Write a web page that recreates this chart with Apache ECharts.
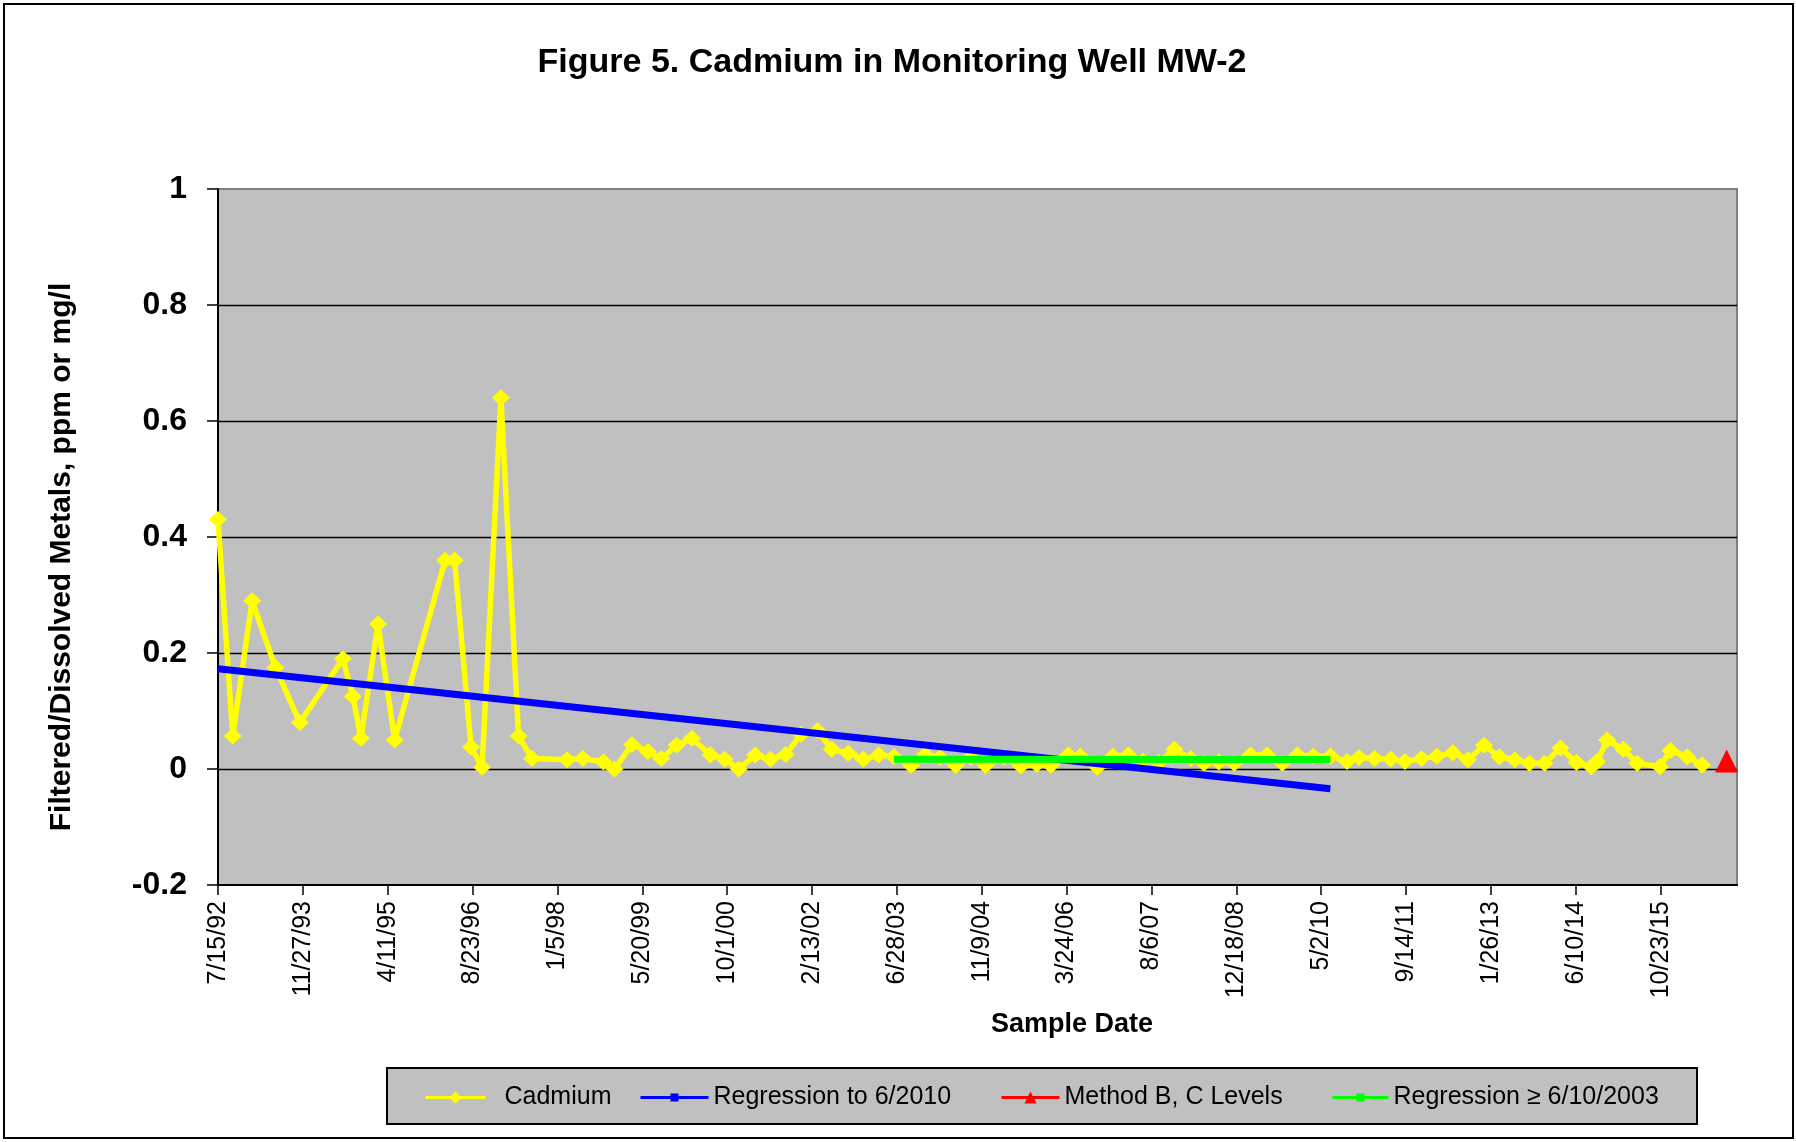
<!DOCTYPE html>
<html><head><meta charset="utf-8">
<script src="https://cdn.jsdelivr.net/npm/echarts@6/dist/echarts.min.js"></script>
<style>html,body{margin:0;padding:0;background:#fff}#c{width:1796px;height:1142px}</style>
</head><body><div id="c"></div>
<script>
// ---- data ----
const sampleDates = [
 '7/15/1992','10/10/1992','2/1/1993','6/18/1993','11/9/1993','7/21/1994','9/18/1994','11/4/1994',
 '2/13/1995','5/22/1995','3/14/1996','5/9/1996','8/14/1996','10/18/1996','2/6/1997','5/21/1997',
 '8/8/1997','3/2/1998','6/4/1998','10/3/1998','12/7/1998','3/20/1999','6/22/1999','9/9/1999',
 '12/8/1999','3/7/2000','6/24/2000','9/16/2000','12/8/2000','3/15/2001','6/13/2001','9/11/2001',
 '12/11/2001','3/18/2002','6/9/2002','9/14/2002','12/12/2002','3/13/2003','6/10/2003','9/20/2003',
 '12/12/2003','3/9/2004','6/9/2004','9/5/2004','12/2/2004','3/19/2005','6/27/2005','9/29/2005',
 '12/21/2005','4/3/2006','6/13/2006','9/21/2006','12/22/2006','3/22/2007','6/16/2007','9/18/2007',
 '12/19/2007','3/25/2008','6/10/2008','9/6/2008','12/6/2008','3/11/2009','6/17/2009','9/15/2009',
 '12/13/2009','3/17/2010','6/25/2010','10/1/2010','12/11/2010','3/12/2011','6/16/2011','9/7/2011',
 '12/14/2011','3/13/2012','6/15/2012','9/13/2012','12/17/2012','3/17/2013','6/16/2013','9/10/2013',
 '12/8/2013','3/12/2014','6/14/2014','9/10/2014','10/13/2014','12/12/2014','3/17/2015','6/7/2015',
 '10/19/2015','12/20/2015','3/28/2016','6/24/2016'
];
const cadmium = [
 0.43,0.057,0.29,0.175,0.08,0.19,0.125,0.053,
 0.25,0.05,0.36,0.36,0.038,0.003,0.64,0.057,
 0.018,0.016,0.018,0.012,0.0,0.042,0.03,0.018,
 0.041,0.053,0.024,0.017,0.0,0.024,0.017,0.025,
 0.06,0.066,0.034,0.027,0.017,0.024,0.021,0.006,
 0.025,0.02,0.006,0.02,0.006,0.02,0.005,0.008,
 0.006,0.024,0.022,0.003,0.022,0.024,0.014,0.011,
 0.034,0.018,0.01,0.012,0.01,0.024,0.024,0.01,
 0.024,0.022,0.022,0.013,0.02,0.018,0.017,0.013,
 0.018,0.022,0.028,0.016,0.041,0.021,0.016,0.01,
 0.01,0.036,0.011,0.004,0.013,0.05,0.034,0.01,
 0.004,0.032,0.021,0.007
];
const regressionDates = ['7/15/1992','6/25/2010'];
const regressionValues = [0.173, -0.034];
const recentRegressionDates = ['6/10/2003','6/25/2010'];
const recentRegressionValues = [0.017, 0.0165];
const methodDates = ['11/15/2016'];
const methodValues = [0.014];
const axisStartDate = '7/15/1992';
const axisEndDate = '1/15/2017';
const xTickStepDays = 500;
const yMin = -0.2, yMax = 1, yStep = 0.2;

// ---- helpers ----
function utc(s){ const p = s.split('/').map(Number); return Date.UTC(p[2], p[0]-1, p[1]); }
const DAY = 86400000;
const origin = utc(axisStartDate);
function toDays(s){ return Math.round((utc(s) - origin) / DAY); }
function fmtDate(v){
  const d = new Date(origin + v * DAY);
  return (d.getUTCMonth()+1) + '/' + d.getUTCDate() + '/' + String(d.getUTCFullYear()).slice(-2);
}
function pairs(dates, vals){ return dates.map((d,i)=>[toDays(d), vals[i]]); }

const FONT = "'Liberation Sans', Arial, sans-serif";
const chart = echarts.init(document.getElementById('c'), null, {renderer:'canvas'});

function legendCfg(name, left, itemWidth, itemHeight, top, extraPad){
  return {
    data:[name], left:left, top:top, padding:0,
    itemWidth:itemWidth, itemHeight:itemHeight, selectedMode:false,
    lineStyle:{width:3},
    textStyle:{fontFamily:FONT, fontSize:25, color:'#000', padding:[0,0,0,extraPad||0]}
  };
}

chart.setOption({
  animation:false,
  backgroundColor:'#ffffff',
  title:{
    text:'Figure 5. Cadmium in Monitoring Well MW-2',
    left:892, top:63, textAlign:'center', textVerticalAlign:'middle', padding:0,
    textStyle:{fontFamily:FONT, fontSize:34, fontWeight:'bold', color:'#000'}
  },
  grid:{
    left:218, right:59, top:189, bottom:257, containLabel:false, outerBoundsMode:'none',
    show:true, backgroundColor:'#c0c0c0', borderColor:'#808080', borderWidth:2
  },
  xAxis:{
    type:'value', min:0, max:toDays(axisEndDate), interval:xTickStepDays,
    axisLine:{show:true, onZero:false, lineStyle:{color:'#000', width:2}},
    axisTick:{show:true, inside:false, length:10, lineStyle:{color:'#000', width:1.5}},
    splitLine:{show:false},
    axisLabel:{
      rotate:90, margin:16, fontFamily:FONT, fontSize:25, color:'#000', showMaxLabel:false,
      formatter:function(v){ return (v % xTickStepDays === 0) ? fmtDate(v) : ''; }
    }
  },
  yAxis:{
    type:'value', min:yMin, max:yMax, interval:yStep,
    axisLine:{show:true, onZero:false, lineStyle:{color:'#000', width:2}},
    axisTick:{show:true, inside:false, length:11, lineStyle:{color:'#000', width:1.5}},
    splitLine:{show:true, showMaxLine:false, showMinLine:false, lineStyle:{color:'#000', width:1.4}},
    axisLabel:{
      margin:31, fontFamily:FONT, fontSize:32, fontWeight:'bold', color:'#000',
      formatter:function(v){ return String(Math.round(v*10)/10); }
    }
  },
  legend:[
    legendCfg('Cadmium', 424, 60, 15, 1085, 14),
    legendCfg('Regression to 6/2010', 639, 68, 10, 1085, 0),
    legendCfg('Method B, C Levels', 1000, 58, 15, 1085, 0),
    legendCfg('Regression \u2265 6/10/2003', 1331, 56, 10, 1085, 0)
  ],
  graphic:[
    {type:'rect', z:0, shape:{x:4, y:4, width:1789, height:1134}, style:{fill:'none', stroke:'#000', lineWidth:2}},
    {type:'rect', z:0, shape:{x:387, y:1068, width:1310, height:56}, style:{fill:'#c0c0c0', stroke:'#000', lineWidth:2}},
    {type:'text', z:5, x:62, y:557, rotation:Math.PI/2,
      style:{text:'Filtered/Dissolved Metals, ppm or mg/l', font:"bold 30px 'Liberation Sans', Arial, sans-serif",
        fill:'#000', textAlign:'center', textVerticalAlign:'middle'}},
    {type:'text', z:5, x:1072, y:1025,
      style:{text:'Sample Date', font:"bold 27px 'Liberation Sans', Arial, sans-serif",
        fill:'#000', textAlign:'center', textVerticalAlign:'middle'}}
  ],
  series:[
    {name:'Cadmium', type:'line', data:pairs(sampleDates, cadmium),
      symbol:'diamond', symbolSize:[18,17], showSymbol:true,
      lineStyle:{color:'#ffff00', width:5.5}, itemStyle:{color:'#ffff00'}, z:2},
    {name:'Regression to 6/2010', type:'line', data:pairs(regressionDates, regressionValues),
      symbol:'rect', showSymbol:false,
      lineStyle:{color:'#0000ff', width:7}, itemStyle:{color:'#0000ff'}, z:3},
    {name:'Method B, C Levels', type:'line', data:pairs(methodDates, methodValues),
      symbol:'triangle', symbolSize:23, showSymbol:true,
      lineStyle:{color:'#ff0000', width:3}, itemStyle:{color:'#ff0000'}, z:4},
    {name:'Regression \u2265 6/10/2003', type:'line', data:pairs(recentRegressionDates, recentRegressionValues),
      symbol:'rect', showSymbol:false,
      lineStyle:{color:'#00ff00', width:7}, itemStyle:{color:'#00ff00'}, z:5}
  ]
});
</script></body></html>
